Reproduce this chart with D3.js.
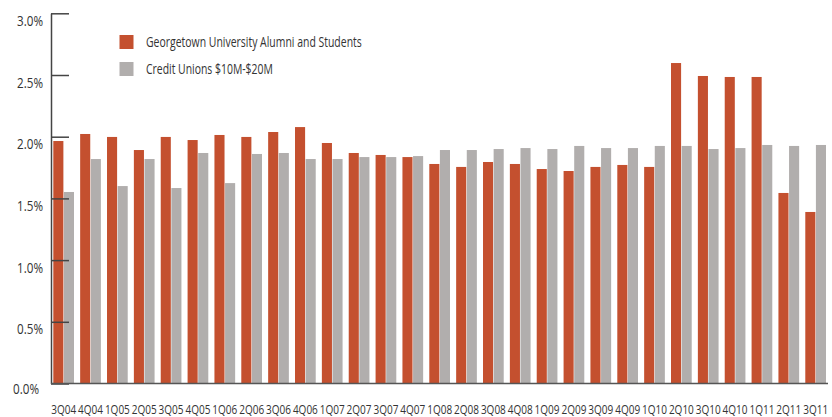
<!DOCTYPE html>
<html>
<head>
<meta charset="utf-8">
<script src="https://cdn.jsdelivr.net/npm/d3@7"></script>
<style>
  body { margin: 0; background: #fff; }
  text { font-family: "Open Sans", "Noto Sans", sans-serif; fill: #333; }
</style>
</head>
<body>
<div id="chart-area"></div>
<script>
var quarters = ["3Q04","4Q04","1Q05","2Q05","3Q05","4Q05","1Q06","2Q06","3Q06","4Q06",
  "1Q07","2Q07","3Q07","4Q07","1Q08","2Q08","3Q08","4Q08","1Q09","2Q09",
  "3Q09","4Q09","1Q10","2Q10","3Q10","4Q10","1Q11","2Q11","3Q11"];

var georgetown = [1.965, 2.022, 1.998, 1.892, 1.998, 1.973, 2.014, 1.998, 2.038, 2.078,
  1.949, 1.868, 1.852, 1.835, 1.779, 1.755, 1.795, 1.779, 1.738, 1.722,
  1.755, 1.771, 1.755, 2.597, 2.492, 2.484, 2.484, 1.544, 1.390];

var creditUnions = [1.552, 1.819, 1.600, 1.819, 1.584, 1.868, 1.624, 1.860, 1.868, 1.819,
  1.819, 1.835, 1.835, 1.843, 1.892, 1.892, 1.900, 1.908, 1.900, 1.925,
  1.908, 1.908, 1.925, 1.925, 1.900, 1.908, 1.933, 1.925, 1.933];

var seriesNames = ["Georgetown University Alumni and Students", "Credit Unions $10M-$20M"];
var colors = ["#c4502f", "#b1aead"];
var yTicks = [0, 0.5, 1.0, 1.5, 2.0, 2.5, 3.0];

const W = 832, H = 417;
const AXIS_X = 51, Y_TOP = 13.3, Y_ZERO = 383.5;

const svg = d3.select("#chart-area").append("svg")
  .attr("width", W)
  .attr("height", H);

// narrow a text horizontally to a given width (the original uses a condensed face)
function squeeze(sel, width, ax) {
  sel.each(function(d, i) {
    var t = d3.select(this);
    var w = typeof width === "function" ? width(d, i) : width;
    var a = typeof ax === "function" ? ax(d, i) : ax;
    var s = Math.min(1, w / this.getComputedTextLength());
    t.attr("x", 0).attr("transform", `translate(${a},0) scale(${s},1)`);
  });
}

var yScale = d3.scaleLinear()
  .domain([0, 3])
  .range([Y_ZERO, Y_TOP]);

var x0 = d3.scaleBand()
  .domain(quarters)
  .range([53.3, 826])
  .paddingInner(0.229)
  .paddingOuter(0);

var x1 = d3.scaleBand()
  .domain([0, 1])
  .range([0, x0.bandwidth()])
  .paddingInner(0.05);

var rows = quarters.map((q, i) => ({q: q, vals: [georgetown[i], creditUnions[i]]}));

// bars
var groups = svg.append("g").selectAll("g")
  .data(rows)
  .join("g")
  .attr("transform", d => `translate(${x0(d.q)},0)`);

groups.selectAll("rect")
  .data(d => d.vals.map((v, k) => ({k: k, v: v})))
  .join("rect")
  .attr("x", d => x1(d.k))
  .attr("width", x1.bandwidth())
  .attr("y", d => yScale(d.v))
  .attr("height", d => Y_ZERO - yScale(d.v))
  .attr("fill", d => colors[d.k]);

// y axis, ticks pointing into the plot
var yAxis = svg.append("g")
  .attr("transform", `translate(${AXIS_X},0)`)
  .call(d3.axisLeft(yScale)
    .tickValues(yTicks)
    .tickSizeInner(-18)
    .tickSizeOuter(0)
    .tickPadding(8)
    .tickFormat(d => d.toFixed(1) + "%"));

yAxis.select(".domain").attr("stroke", "#444").attr("stroke-width", 1.5);
yAxis.selectAll(".tick line").attr("stroke", "#444").attr("stroke-width", 1.5);
yAxis.selectAll(".tick text")
  .attr("dy", d => d === 0 ? "0.65em" : "0.8em")
  .style("font-size", "15px")
  .attr("fill", "#333")
  .call(squeeze, 26, d => d === 0 ? -12 : -8);

// baseline
svg.append("line")
  .attr("x1", AXIS_X).attr("x2", 828)
  .attr("y1", Y_ZERO).attr("y2", Y_ZERO)
  .attr("stroke", "#555")
  .attr("stroke-width", 1.5);

// x labels
var xAxis = svg.append("g")
  .attr("transform", `translate(0,${Y_ZERO})`)
  .call(d3.axisBottom(x0).tickSize(0).tickPadding(21));
xAxis.select(".domain").remove();
xAxis.selectAll(".tick text")
  .style("font-size", "13px")
  .attr("fill", "#333")
  .call(squeeze, 25, 0);

// legend
var legendWidths = [216, 127];
var legend = svg.append("g").selectAll("g")
  .data(seriesNames)
  .join("g")
  .attr("transform", (d, i) => `translate(119.5,${35 + i * 27})`);

legend.append("rect")
  .attr("width", 14)
  .attr("height", 14)
  .attr("fill", (d, i) => colors[i]);

legend.append("text")
  .attr("y", 7)
  .attr("dy", "0.35em")
  .style("font-size", "14px")
  .text(d => d)
  .call(squeeze, (d, i) => legendWidths[i], 26.5);
</script>
</body>
</html>
